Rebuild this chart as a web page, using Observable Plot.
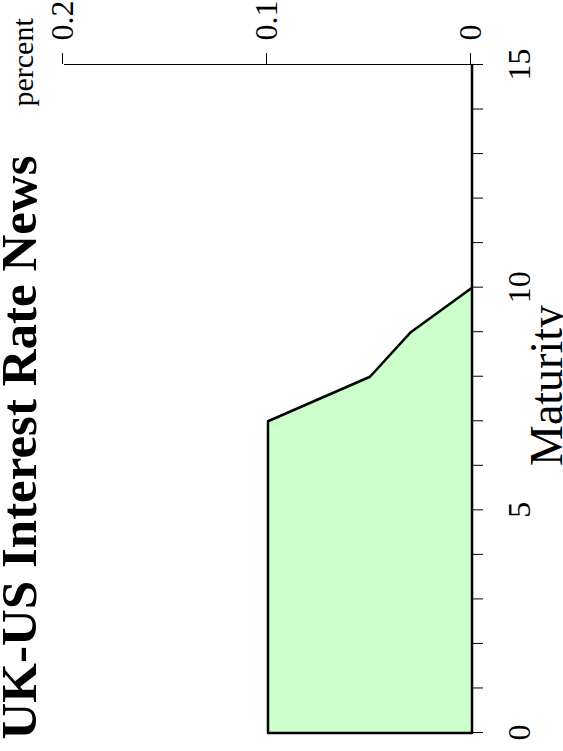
<!DOCTYPE html>
<html>
<head>
<meta charset="utf-8">
<script src="https://cdn.jsdelivr.net/npm/d3@7"></script>
<script src="https://cdn.jsdelivr.net/npm/@observablehq/plot@0.6"></script>
<style>
  html, body { margin: 0; padding: 0; background: white; overflow: hidden; }
  #wrap {
    position: absolute; left: 0; top: 0;
    width: 751px; height: 563px;
    transform-origin: 0 0;
    transform: translate(0, 751px) rotate(-90deg);
  }
</style>
</head>
<body>
<div id="wrap"></div>
<script>
// Data
const maturity = [0, 1, 2, 3, 4, 5, 6, 7, 8, 9, 10, 11, 12, 13, 14, 15];
const percent  = [0.1, 0.1, 0.1, 0.1, 0.1, 0.1, 0.1, 0.1, 0.05, 0.03, 0, 0, 0, 0, 0, 0];
const xTicks = [0, 1, 2, 3, 4, 5, 6, 7, 8, 9, 10, 11, 12, 13, 14, 15];
const xTickLabels = ["0", "", "", "", "", "5", "", "", "", "", "10", "", "", "", "", "15"];
const yTicks = [0, 0.1, 0.2];
const yTickLabels = ["0", "0.1", "0.2"];
const titleText = "UK-US Interest Rate News";
const xLabel = "Maturity";
const yLabel = "percent";

const data = maturity.map((m, i) => ({maturity: m, percent: percent[i]}));

const chart = Plot.plot({
  width: 751,
  height: 563,
  marginLeft: 18,
  marginRight: 65,
  marginTop: 64,
  marginBottom: 91,
  style: {fontFamily: "'Liberation Serif', 'Times New Roman', serif", fontSize: "32px", background: "white", color: "black", overflow: "visible"},
  x: {domain: [0, 15]},
  y: {domain: [0, 0.2]},
  marks: [
    Plot.areaY(data, {x: "maturity", y: "percent", fill: "#ccffcc", stroke: "black", strokeWidth: 2.5}),
    Plot.ruleY([0], {stroke: "black", strokeWidth: 1}),
    Plot.ruleX([15], {y1: 0, y2: 0.2, stroke: "black", strokeWidth: 1}),
    Plot.axisX({
      ticks: xTicks, tickSize: 11, tickPadding: 24, label: null, fontSize: 32,
      tickFormat: d => xTickLabels[xTicks.indexOf(d)]
    }),
    Plot.axisY({
      anchor: "right", ticks: yTicks, tickSize: 11, tickPadding: 13, label: null, fontSize: 32, dy: -2,
      tickFormat: d => yTickLabels[yTicks.indexOf(d)]
    }),
    Plot.text([titleText], {frameAnchor: "top-left", dx: -7, dy: -29, lineAnchor: "bottom", textAnchor: "start", fontSize: 51, fontWeight: "bold"}),
    Plot.text([yLabel], {frameAnchor: "top-right", dx: -42, dy: -32, lineAnchor: "bottom", textAnchor: "start", fontSize: 30}),
    Plot.text([xLabel], {frameAnchor: "bottom", dx: 13, dy: 89, lineAnchor: "bottom", textAnchor: "middle", fontSize: 46})
  ]
});
document.getElementById("wrap").appendChild(chart);
</script>
</body>
</html>
